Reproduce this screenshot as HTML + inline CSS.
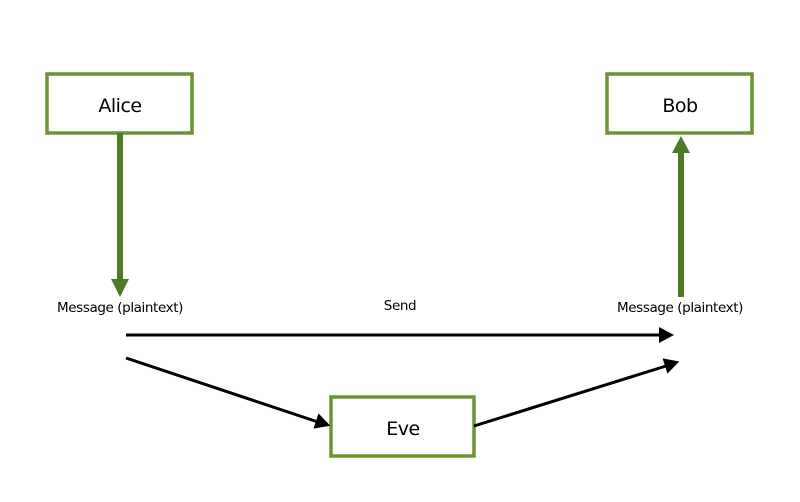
<!DOCTYPE html>
<html><head><style>
html,body{margin:0;padding:0;background:#fff;}
svg{display:block;font-family:"DejaVu Sans","Liberation Sans",sans-serif;}
</style></head><body>
<svg width="800" height="502" viewBox="0 0 800 502">
<g fill="#fff" stroke="#6b9432" stroke-width="3.5">
<rect x="47" y="74" width="145" height="59"/>
<rect x="607" y="74" width="145" height="59"/>
<rect x="331" y="397" width="143" height="59"/>
</g>
<g font-size="19" text-anchor="middle" fill="#000" style="letter-spacing:-0.5px">
<text x="120" y="112">Alice</text>
<text x="680" y="112">Bob</text>
<text x="403" y="435">Eve</text>
</g>
<g font-size="13.5" text-anchor="middle" fill="#000" style="letter-spacing:-0.4px">
<text x="120" y="312">Message (plaintext)</text>
<text x="680" y="312">Message (plaintext)</text>
<text x="400" y="310">Send</text>
</g>
<g stroke="#4f7a26" stroke-width="6">
<line x1="120" y1="133" x2="120" y2="280"/>
<line x1="681" y1="297" x2="681" y2="152"/>
</g>
<polygon points="111,279 129,279 120,297" fill="#4f7a26"/>
<polygon points="672,153 690,153 681,136" fill="#4f7a26"/>
<g stroke="#000" stroke-width="3">
<line x1="126" y1="335" x2="660" y2="335"/>
<line x1="126" y1="358" x2="318" y2="422"/>
<line x1="474" y1="426" x2="666" y2="366"/>
</g>
<polygon points="659,327 674,335 659,343" fill="#000"/>
<polygon points="0,-8 15,0 0,8" fill="#000" transform="translate(316,421) rotate(18.4)"/>
<polygon points="0,-8 15,0 0,8" fill="#000" transform="translate(665,366) rotate(-17.4)"/>
</svg>
</body></html>
